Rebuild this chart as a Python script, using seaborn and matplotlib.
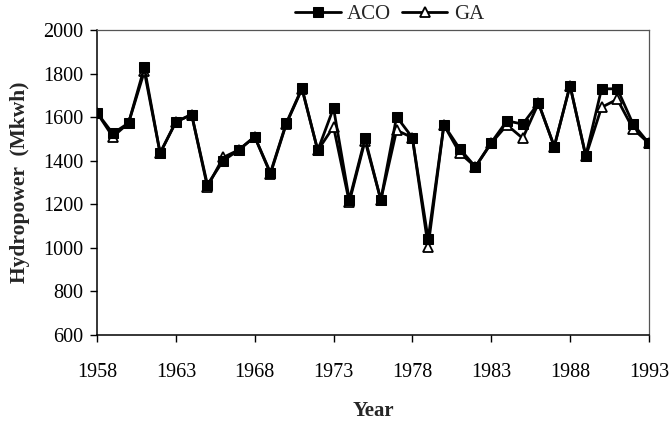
import numpy as np
import pandas as pd
import seaborn as sns
import matplotlib
matplotlib.use("Agg")
import matplotlib.pyplot as plt

years = list(range(1958, 1994))
aco = [1620, 1525, 1573, 1828, 1435, 1578, 1612, 1290, 1400, 1450,
       1510, 1345, 1572, 1733, 1447, 1642, 1220, 1502, 1220, 1602,
       1506, 1040, 1564, 1455, 1372, 1483, 1583, 1568, 1664, 1465,
       1745, 1423, 1730, 1730, 1568, 1480]
ga = [1620, 1510, 1573, 1810, 1435, 1578, 1612, 1280, 1415, 1450,
      1510, 1340, 1568, 1730, 1447, 1556, 1210, 1492, 1220, 1540,
      1506, 1006, 1564, 1436, 1372, 1480, 1564, 1503, 1664, 1465,
      1745, 1420, 1645, 1682, 1546, 1480]
x_ticks = [1958, 1963, 1968, 1973, 1978, 1983, 1988, 1993]
y_ticks = [600, 800, 1000, 1200, 1400, 1600, 1800, 2000]

df = pd.DataFrame({"Year": years * 2,
                   "Hydropower": aco + ga,
                   "Method": ["ACO"] * len(years) + ["GA"] * len(years)})

sns.set_theme(style="white")
plt.rcParams["font.family"] = ["Liberation Serif", "DejaVu Serif"]

fig = plt.figure(figsize=(6.71, 4.26), dpi=100)
ax = fig.add_axes([0.1446, 0.2136, 0.8224, 0.716])

# GA first so the ACO squares sit on top
sns.lineplot(data=df[df.Method == "GA"], x="Year", y="Hydropower", ax=ax,
             color="black", lw=2.0, marker="^", markersize=7.5,
             markerfacecolor="white", markeredgecolor="black",
             markeredgewidth=1.3, label="GA", zorder=3)
sns.lineplot(data=df[df.Method == "ACO"], x="Year", y="Hydropower", ax=ax,
             color="black", lw=2.0, marker="s", markersize=7.5,
             markerfacecolor="black", markeredgecolor="black",
             label="ACO", zorder=4)

ax.set_xlim(1958, 1993)
ax.set_ylim(600, 2000)
ax.set_xticks(x_ticks)
ax.set_yticks(y_ticks)
ax.tick_params(axis="both", labelsize=14.5, colors="black", direction="out",
               length=5, width=1)
ax.tick_params(axis="x", top=False, bottom=True, pad=15)
ax.tick_params(axis="y", left=True, right=False, pad=5)

for side in ["left", "bottom"]:
    ax.spines[side].set_color("black")
    ax.spines[side].set_linewidth(1.1)
for side in ["top", "right"]:
    ax.spines[side].set_color("#555555")
    ax.spines[side].set_linewidth(0.9)

ax.set_xlabel("Year", fontsize=15, fontweight="bold", labelpad=14)
ax.set_ylabel("Hydropower  (Mkwh)", fontsize=15.5, fontweight="bold", labelpad=9)

handles, labels = ax.get_legend_handles_labels()
order = [labels.index("ACO"), labels.index("GA")]
ax.legend([handles[i] for i in order], [labels[i] for i in order],
          loc="lower center", bbox_to_anchor=(0.53, 1.012), ncol=2,
          frameon=False, fontsize=15, handlelength=2.2, columnspacing=0.5,
          handletextpad=0.3, borderaxespad=0.0, borderpad=0.1)

fig.savefig("out.png", dpi=100, facecolor="white")
